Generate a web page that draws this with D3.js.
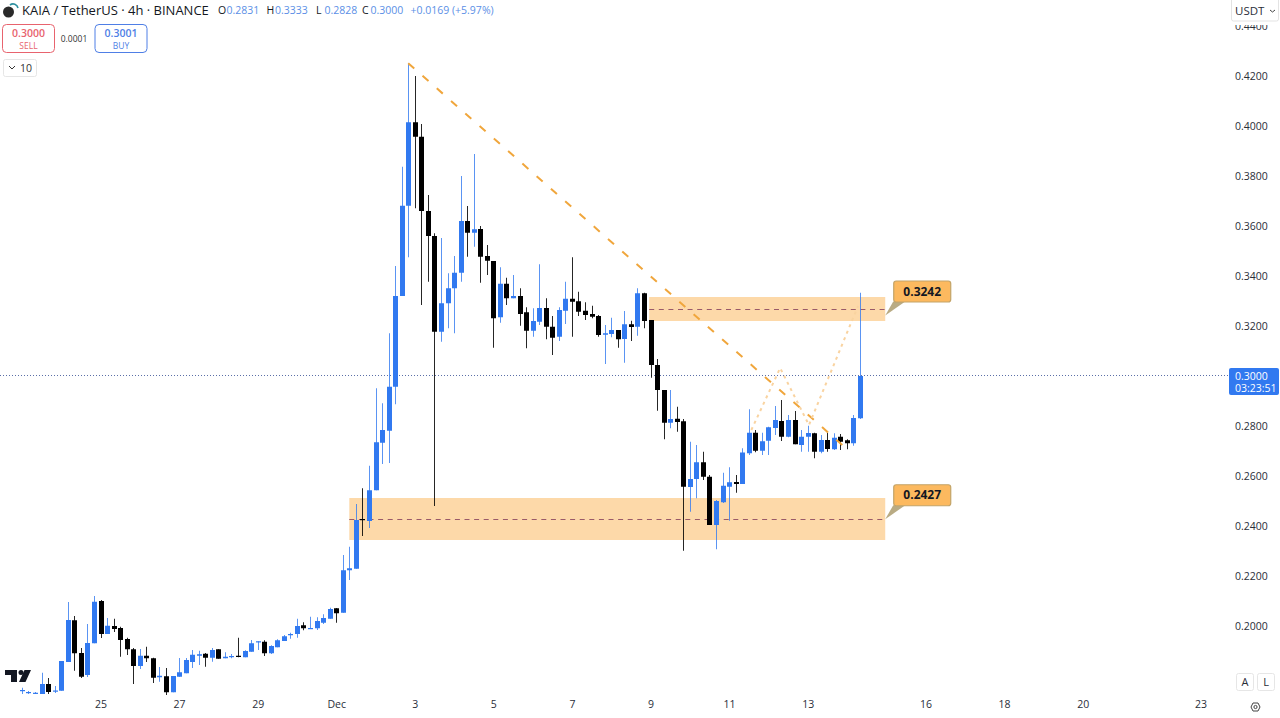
<!DOCTYPE html>
<html>
<head>
<meta charset="utf-8">
<script src="https://cdn.jsdelivr.net/npm/d3@7"></script>
<style>
  html, body { margin: 0; padding: 0; background: #fff; overflow: hidden; }
  text { font-family: "Open Sans", "Noto Sans", sans-serif; }
  .axis text { font-size: 10.5px; fill: #2a2e39; }
  .axis path, .axis line { display: none; }
</style>
</head>
<body>
<div id="chart"></div>
<script>
// 4h candles, first one is Nov 23 00:00
var opens = [.1740,.1734,.1732,.1728,.1768,.1738,.1741,.1856,.2023,.1892,.1804,.1931,
  .2100,.1968,.2000,.1992,.1948,.1907,.1840,.1881,.1871,.1795,.1799,.1735,
  .1797,.1811,.1856,.1881,.1889,.1873,.1907,.1871,.1876,.1881,.1875,.1897,
  .1936,.1937,.1891,.1915,.1940,.1963,.1968,.2003,.1991,.1991,.2013,.2029,
  .2071,.2053,.2223,.2229,.2428,.2420,.2543,.2733,.2781,.2957,.3320,.3681,
  .4015,.3957,.3660,.3560,.3177,.3291,.3351,.3413,.3620,.3573,.3588,.3480,
  .3460,.3235,.3369,.3311,.3320,.3255,.3181,.3217,.3272,.3197,.3157,.3261,
  .3309,.3299,.3261,.3248,.3240,.3165,.3168,.3184,.3148,.3207,.3197,.3331,
  .3224,.3044,.2944,.2813,.2829,.2819,.2556,.2588,.2655,.2597,.2404,.2495,
  .2557,.2576,.2568,.2691,.2773,.2701,.2741,.2792,.2820,.2757,.2824,.2724,
  .2757,.2771,.2697,.2744,.2707,.2757,.2743,.2731,.2831];
var highs = [.1753,.1740,.1736,.1813,.1792,.1760,.1860,.2096,.2040,.1912,.2008,.2120,
  .2104,.2032,.2029,.1997,.1953,.1912,.1908,.1917,.1873,.1836,.1832,.1800,
  .1872,.1872,.1904,.1901,.1892,.1912,.1907,.1895,.1888,.1953,.1903,.1944,
  .1939,.1943,.1923,.1947,.1964,.1973,.2029,.2015,.2037,.2035,.2047,.2073,
  .2072,.2284,.2317,.2488,.2551,.2641,.2951,.2891,.3171,.3440,.3837,.4251,
  .4200,.4008,.3724,.3571,.3552,.3411,.3480,.3800,.3680,.3888,.3600,.3524,
  .3460,.3435,.3393,.3404,.3351,.3275,.3271,.3447,.3311,.3240,.3275,.3377,
  .3475,.3337,.3295,.3281,.3244,.3204,.3233,.3184,.3260,.3221,.3351,.3333,
  .3224,.3068,.2944,.2944,.2877,.2828,.2737,.2724,.2697,.2604,.2504,.2613,
  .2635,.2604,.2711,.2867,.2784,.2773,.2797,.2880,.2904,.2844,.2860,.2784,
  .2801,.2773,.2764,.2773,.2771,.2768,.2747,.2844,.3333];
var lows = [.1728,.1728,.1728,.1728,.1728,.1732,.1741,.1856,.1821,.1792,.1796,.1931,
  .1952,.1968,.1976,.1877,.1884,.1768,.1828,.1856,.1772,.1777,.1724,.1735,
  .1797,.1811,.1832,.1844,.1837,.1857,.1869,.1871,.1871,.1875,.1875,.1897,
  .1904,.1880,.1888,.1915,.1940,.1949,.1953,.1983,.1991,.1984,.2008,.2029,
  .2013,.2053,.2184,.2229,.2360,.2392,.2543,.2648,.2652,.2887,.3320,.3475,
  .3671,.3284,.3377,.2480,.3137,.3191,.3171,.3377,.3477,.3517,.3373,.3404,
  .3113,.3213,.3284,.3311,.3201,.3111,.3157,.3204,.3147,.3084,.3140,.3208,
  .3157,.3240,.3224,.3231,.3157,.3048,.3155,.3113,.3053,.3140,.3161,.3191,
  .2993,.2861,.2747,.2791,.2777,.2301,.2457,.2511,.2584,.2404,.2307,.2492,
  .2421,.2533,.2568,.2684,.2695,.2684,.2684,.2764,.2740,.2755,.2727,.2697,
  .2697,.2671,.2691,.2697,.2704,.2704,.2707,.2721,.2828];
var closes = [.1744,.1736,.1733,.1768,.1736,.1742,.1860,.2024,.1891,.1797,.1932,.2097,
  .1968,.2001,.1988,.1944,.1907,.1840,.1881,.1871,.1793,.1801,.1735,.1800,
  .1815,.1864,.1885,.1887,.1873,.1904,.1869,.1877,.1880,.1876,.1900,.1931,
  .1939,.1891,.1920,.1943,.1959,.1968,.2000,.1991,.1992,.2020,.2032,.2068,
  .2051,.2223,.2231,.2424,.2424,.2543,.2735,.2784,.2957,.3320,.3681,.4015,
  .3957,.3660,.3560,.3177,.3291,.3351,.3413,.3620,.3573,.3587,.3477,.3461,
  .3231,.3369,.3311,.3320,.3248,.3181,.3220,.3272,.3197,.3153,.3264,.3309,
  .3297,.3257,.3244,.3237,.3164,.3171,.3184,.3147,.3207,.3196,.3331,.3220,
  .3044,.2944,.2813,.2828,.2816,.2557,.2588,.2655,.2597,.2404,.2500,.2561,
  .2575,.2568,.2694,.2773,.2701,.2739,.2795,.2824,.2757,.2824,.2727,.2757,
  .2772,.2697,.2744,.2708,.2753,.2737,.2731,.2832,.3000];

var priceTicks = [.44,.42,.40,.38,.36,.34,.32,.28,.26,.24,.22,.20];
var timeTicks = [12,24,36,48,60,72,84,96,108,120,138,150,162,180];
var timeLabels = ["25","27","29","Dec","3","5","7","9","11","13","16","18","20","23"];

var zones = [
  {bar0: 95.8, bar1: 131.85, top: .3316, bottom: .3220, level: .3268, label: "0.3242"},
  {bar0: 50, bar1: 131.85, top: .2512, bottom: .2344, level: .2427, label: "0.2427"}
];
var trendBars = [59, 126];
var trendPrices = [.4251, .2708];
var zigzagBars = [111.4, 115.8, 120.2, 127.7];
var zigzagPrices = [.2784, .3032, .2804, .3280];
var lastPrice = .3000;

var UP = "#3179f0", DOWN = "#000000";

var width = 1280, height = 718;
var x = d3.scaleLinear().domain([12, 180]).range([100.5, 1200.5]);
var y = d3.scaleLinear().domain([.20, .42]).range([626, 76]);

var svg = d3.select("#chart").append("svg")
  .attr("width", width).attr("height", height)
  .style("display", "block");

svg.append("clipPath").attr("id", "plot")
  .append("rect").attr("x", 0).attr("y", 0).attr("width", 1228).attr("height", 695);

// price and time axes
var yAxis = svg.append("g").attr("class", "axis")
  .attr("transform", "translate(1235,0)")
  .call(d3.axisRight(y).tickValues(priceTicks).tickFormat(d3.format(".4f")).tickSize(0).tickPadding(0));

var xAxis = svg.append("g").attr("class", "axis")
  .attr("transform", "translate(0,695)")
  .call(d3.axisBottom(x).tickValues(timeTicks).tickFormat(function(d) {
    return timeLabels[timeTicks.indexOf(d)];
  }).tickSize(0).tickPadding(6));

var plot = svg.append("g").attr("clip-path", "url(#plot)");

// zones go under the candles
plot.selectAll("rect.zone").data(zones).enter().append("rect")
  .attr("class", "zone")
  .attr("x", function(d) { return x(d.bar0); })
  .attr("y", function(d) { return y(d.top); })
  .attr("width", function(d) { return x(d.bar1) - x(d.bar0); })
  .attr("height", function(d) { return y(d.bottom) - y(d.top); })
  .attr("fill", "#fdd9a9");

plot.selectAll("line.level").data(zones).enter().append("line")
  .attr("class", "level")
  .attr("x1", function(d) { return x(d.bar0); })
  .attr("x2", function(d) { return x(d.bar1); })
  .attr("y1", function(d) { return Math.round(y(d.level)) + .5; })
  .attr("y2", function(d) { return Math.round(y(d.level)) + .5; })
  .attr("stroke", "#9a5a68").attr("stroke-width", 1).attr("stroke-dasharray", "5 4.6");

// last price line
plot.append("line")
  .attr("x1", 0).attr("x2", 1228)
  .attr("y1", Math.round(y(lastPrice)) - .5).attr("y2", Math.round(y(lastPrice)) - .5)
  .attr("stroke", "#5b6fa8").attr("stroke-width", 1).attr("stroke-dasharray", "1 2");

// candles
var idx = d3.range(opens.length);
var cx = function(i) { return Math.round(x(i)); };
var color = function(i) { return closes[i] >= opens[i] ? UP : DOWN; };

plot.selectAll("line.wick").data(idx).enter().append("line")
  .attr("class", "wick")
  .attr("x1", function(i) { return cx(i) + .5; })
  .attr("x2", function(i) { return cx(i) + .5; })
  .attr("y1", function(i) { return y(highs[i]); })
  .attr("y2", function(i) { return y(lows[i]); })
  .attr("stroke", color).attr("stroke-width", 1)
  .attr("stroke-opacity", function(i) { return closes[i] >= opens[i] ? .8 : .85; });

plot.selectAll("rect.body").data(idx).enter().append("rect")
  .attr("class", "body")
  .attr("x", function(i) { return cx(i) - 2; })
  .attr("width", 5)
  .attr("y", function(i) { return y(Math.max(opens[i], closes[i])); })
  .attr("height", function(i) { return Math.max(1.2, Math.abs(y(opens[i]) - y(closes[i]))); })
  .attr("fill", color);

// trend line and the projected path
var lineGen = d3.line().x(function(d) { return x(d[0]); }).y(function(d) { return y(d[1]); });

plot.append("path")
  .attr("d", lineGen(d3.zip(trendBars, trendPrices)))
  .attr("fill", "none").attr("stroke", "#f0a63c").attr("stroke-width", 2).attr("stroke-dasharray", "8 11");

plot.append("path")
  .attr("d", lineGen(d3.zip(zigzagBars, zigzagPrices)))
  .attr("fill", "none").attr("stroke", "#f9d3a0").attr("stroke-width", 2).attr("stroke-dasharray", "3 4");

// callouts on the zones
var callouts = svg.selectAll("g.callout").data(zones).enter().append("g").attr("class", "callout")
  .attr("transform", function(d) { return "translate(" + x(d.bar1) + "," + y(+d.label) + ")"; });

callouts.append("path")
  .attr("d", "M0,0 L8,-14 L20,-14 Z")
  .attr("fill", "#b9ab84");

callouts.append("rect")
  .attr("x", 8.5)
  .attr("y", -34.5)
  .attr("width", 57).attr("height", 21).attr("rx", 2.5)
  .attr("fill", "#fcb95f").attr("stroke", "#c3a468").attr("stroke-width", 1.2);

callouts.append("text")
  .attr("x", 37).attr("y", -20)
  .attr("text-anchor", "middle")
  .style("font-size", "12px").style("font-weight", 700).attr("fill", "#131722")
  .text(function(d) { return d.label; });

// price label on the scale
var lastLabel = svg.append("g");
lastLabel.append("rect").attr("x", 1229).attr("y", 368).attr("width", 50).attr("height", 27).attr("rx", 2).attr("fill", UP);
lastLabel.append("text").attr("x", 1235).attr("y", 379.5).attr("fill", "#fff").style("font-size", "10.5px").text(d3.format(".4f")(lastPrice));
lastLabel.append("text").attr("x", 1235).attr("y", 392).attr("fill", "#fff").style("font-size", "10.5px").text("03:23:51");

// header
var head = svg.append("g");
head.append("circle").attr("cx", 8.5).attr("cy", 12).attr("r", 5.5).attr("fill", "#2a2a2a");
head.append("path").attr("d", "M10,5 A5,5 0 0 1 18,8").attr("fill", "none").attr("stroke", "#2d8f9f").attr("stroke-width", 1.6);
head.append("text").attr("x", 22).attr("y", 15).attr("fill", "#131722").style("font-size", "13px")
  .text("KAIA / TetherUS · 4h · BINANCE");

var ohlc = [["O", "0.2831", 218], ["H", "0.3333", 266.5], ["L", "0.2828", 316], ["C", "0.3000", 362]];
ohlc.forEach(function(d) {
  head.append("text").attr("x", d[2]).attr("y", 14).attr("fill", "#131722").style("font-size", "10.5px").text(d[0]);
  head.append("text").attr("x", d[2] + 8.5).attr("y", 14).attr("fill", "#5b8fe6").style("font-size", "10.5px").text(d[1]);
});
head.append("text").attr("x", 410.5).attr("y", 14).attr("fill", "#5b8fe6").style("font-size", "10.5px").text("+0.0169 (+5.97%)");

// sell / buy boxes
var boxes = [
  {x: 2, c: "#e8636e", price: "0.3000", side: "SELL"},
  {x: 94.5, c: "#4f7fe6", price: "0.3001", side: "BUY"}
];
boxes.forEach(function(b) {
  head.append("rect").attr("x", b.x + .5).attr("y", 24.5).attr("width", 52).attr("height", 28).attr("rx", 4)
    .attr("fill", "#fff").attr("stroke", b.c);
  head.append("text").attr("x", b.x + 26.5).attr("y", 37).attr("text-anchor", "middle")
    .attr("fill", b.c).style("font-size", "10.5px").style("font-weight", 600).text(b.price);
  head.append("text").attr("x", b.x + 26.5).attr("y", 49).attr("text-anchor", "middle")
    .attr("fill", b.c).style("font-size", "8.5px").text(b.side);
});
head.append("text").attr("x", 74).attr("y", 42).attr("text-anchor", "middle").attr("fill", "#333").style("font-size", "8.5px").text("0.0001");

head.append("rect").attr("x", 3.5).attr("y", 59.5).attr("width", 33).attr("height", 17).attr("rx", 2)
  .attr("fill", "#fff").attr("stroke", "#e6e6e6");
head.append("path").attr("d", "M9,66 L12,69 L15,66").attr("fill", "none").attr("stroke", "#333").attr("stroke-width", 1);
head.append("text").attr("x", 20).attr("y", 72).attr("fill", "#333").style("font-size", "10.5px").text("10");

// USDT button sits over the top tick and cuts it
var btn = svg.append("g");
btn.append("rect").attr("x", 1229).attr("y", 0).attr("width", 51).attr("height", 25).attr("fill", "#fff");
btn.append("rect").attr("x", 1231.5).attr("y", -3).attr("width", 47).attr("height", 24).attr("rx", 2)
  .attr("fill", "#fff").attr("stroke", "#e3e3e3");
btn.append("text").attr("x", 1235).attr("y", 15).attr("fill", "#2a2e39").style("font-size", "11.5px").text("USDT");
btn.append("path").attr("d", "M1270,10 L1272.5,12 L1275,10").attr("fill", "none").attr("stroke", "#444").attr("stroke-width", 1);

// TradingView mark
svg.append("path").attr("d", "M5,670 H17 V682 H11 V675 H5 Z M24.5,670 H31 L25.5,682 H19 Z").attr("fill", "#131722");
svg.append("circle").attr("cx", 21).attr("cy", 672.5).attr("r", 2.5).attr("fill", "#131722");

// A / L buttons and settings
[["A", 1236], ["L", 1257]].forEach(function(b) {
  svg.append("rect").attr("x", b[1] + .5).attr("y", 673.5).attr("width", 17).attr("height", 17).attr("rx", 2)
    .attr("fill", "#fff").attr("stroke", "#e6e6e6");
  svg.append("text").attr("x", b[1] + 9).attr("y", 686).attr("text-anchor", "middle").attr("fill", "#2a2e39").style("font-size", "11px").text(b[0]);
});
svg.append("path").attr("d", "M1251,707 L1253,703 H1258 L1260,707 L1258,711 H1253 Z").attr("fill", "none").attr("stroke", "#444").attr("stroke-width", 1);
svg.append("circle").attr("cx", 1255.5).attr("cy", 707).attr("r", 1.6).attr("fill", "none").attr("stroke", "#444");
</script>
</body>
</html>
